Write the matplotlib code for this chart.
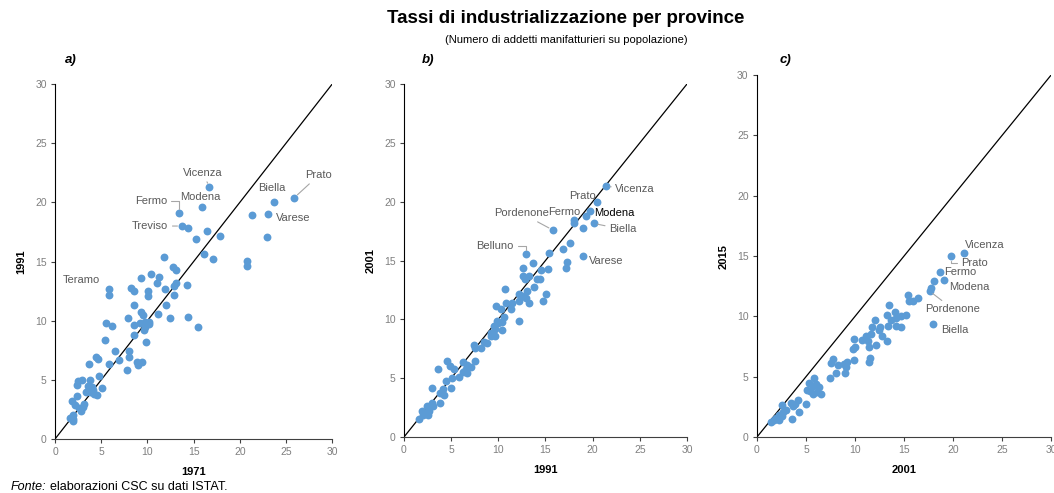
import matplotlib
matplotlib.use("Agg")
import matplotlib.pyplot as plt

plt.rcParams['font.family'] = ['Liberation Sans', 'DejaVu Sans']

# panel a) 1971 vs 1991 -- labelled provinces first
a_names = ["Vicenza", "Prato", "Biella", "Modena", "Fermo", "Treviso", "Varese", "Teramo"]
a_x = [16.7, 25.9, 23.7, 15.96, 13.4, 13.7, 23.1, 5.85,
       14.4, 21.3, 16.5, 15.3, 17.9, 22.9, 16.1, 17.1, 20.8, 20.8, 11.8, 12.8,
       13.1, 9.3, 10.4, 11.3, 11.0, 14.3, 13.1, 12.9, 11.9, 8.2, 8.6, 10.1,
       10.1, 12.9, 5.8, 8.6, 12.0, 9.3, 9.5, 11.1, 7.9, 12.4, 14.4, 15.5,
       5.55, 6.2, 8.5, 9.2, 10.2, 10.2, 9.75, 9.6, 8.5, 5.45, 9.9, 6.5, 8.0,
       8.05, 6.9, 4.4, 4.7, 5.8, 3.7, 8.85, 9.4, 9.0, 7.8, 4.8, 5.05, 3.8,
       2.45, 2.9, 2.35, 3.6, 4.0, 4.15, 3.3, 3.8, 4.25, 4.5, 2.35, 1.8, 2.2,
       3.1, 2.6, 2.8, 1.9, 1.6, 2.0, 1.9, 9.7, 3.0]
a_y = [21.3, 20.4, 20.05, 19.6, 19.1, 18.0, 19.0, 12.7,
       17.86, 18.9, 17.55, 16.9, 17.15, 17.1, 15.65, 15.2, 15.05, 14.65, 15.35, 14.5,
       14.3, 13.6, 13.95, 13.7, 13.15, 13.0, 13.15, 12.9, 12.7, 12.8, 12.55, 12.5,
       12.1, 12.15, 12.15, 11.3, 11.35, 10.7, 10.45, 10.6, 10.25, 10.25, 10.35, 9.5,
       9.8, 9.55, 9.65, 9.8, 9.9, 9.7, 9.5, 9.2, 8.8, 8.4, 8.2, 7.45, 7.45,
       6.95, 6.65, 6.95, 6.75, 6.35, 6.3, 6.5, 6.5, 6.25, 5.8, 5.3, 4.3, 4.95,
       4.9, 5.0, 4.55, 4.45, 4.4, 4.15, 3.95, 3.95, 3.8, 3.7, 3.6, 3.2, 2.9,
       3.0, 2.6, 2.4, 2.05, 1.8, 1.7, 1.55, 9.9, 2.7]

# panel b) 1991 vs 2001
b_names = ["Vicenza", "Prato", "Modena", "Fermo", "Biella", "Pordenone", "Belluno", "Varese"]
b_x = [21.4, 20.5, 19.75, 18.05, 20.1, 15.75, 12.9, 19.0,
       19.25, 18.0, 19.0, 17.65, 16.9, 17.3, 17.2, 15.35, 13.65, 12.6, 14.5,
       15.3, 12.6, 12.85, 13.2, 14.1, 14.4, 13.8, 10.7, 13.0, 15.1, 12.2, 12.6,
       12.95, 12.2, 13.2, 14.75, 10.8, 11.4, 11.3, 9.8, 10.3, 12.2, 10.6, 9.9,
       10.4, 10.0, 9.5, 9.6, 10.4, 9.25, 9.65, 9.2, 8.8, 8.5, 7.45, 7.5, 8.2,
       7.55, 6.25, 7.05, 6.7, 6.55, 6.3, 6.7, 5.8, 4.6, 4.9, 5.3, 3.65, 4.45,
       5.05, 3.0, 4.1, 4.95, 3.8, 4.2, 3.8, 3.0, 3.1, 2.45, 2.65, 1.9, 2.0,
       1.55, 2.5]
b_y = [21.3, 19.97, 19.2, 18.4, 18.15, 17.6, 15.55, 15.4,
       18.8, 18.2, 17.8, 16.5, 15.95, 14.85, 14.4, 15.6, 14.75, 14.4, 14.2,
       14.3, 13.7, 13.45, 13.7, 13.4, 13.4, 12.75, 12.6, 12.4, 12.15, 12.15, 11.95,
       11.8, 11.6, 11.4, 11.55, 11.4, 11.35, 10.9, 11.1, 10.85, 9.9, 10.2, 9.9,
       9.8, 9.65, 9.45, 9.2, 9.1, 8.85, 8.55, 8.55, 8.0, 8.05, 7.8, 7.6, 7.55,
       6.5, 6.4, 5.95, 6.15, 5.8, 5.5, 5.4, 5.1, 6.5, 6.0, 5.75, 5.8, 4.8,
       5.0, 4.15, 4.1, 4.15, 3.7, 3.55, 2.85, 2.9, 2.6, 2.65, 2.25, 2.2, 1.85,
       1.5, 1.9]

# panel c) 2001 vs 2015
c_names = ["Vicenza", "Prato", "Fermo", "Modena", "Pordenone", "Biella"]
c_x = [21.1, 19.75, 18.65, 19.05, 17.6, 18.0,
       18.1, 17.75, 15.45, 15.55, 15.9, 16.4, 13.5, 14.1, 13.25, 13.7, 14.2,
       14.7, 15.2, 14.2, 14.7, 13.35, 12.05, 11.75, 12.5, 12.4, 11.65, 11.15,
       10.75, 11.35, 12.75, 13.25, 11.4, 12.1, 9.85, 9.75, 10.0, 9.85, 11.5,
       11.4, 7.8, 7.6, 8.3, 8.85, 9.2, 9.05, 8.05, 8.95, 7.5, 5.8, 5.3, 5.7,
       6.0, 6.3, 6.5, 5.75, 5.15, 5.4, 6.1, 4.95, 4.2, 3.9, 3.5, 2.55, 3.7,
       4.25, 3.6, 2.7, 3.0, 2.25, 1.95, 1.7, 1.4, 2.2, 2.55]
c_y = [15.25, 14.97, 13.7, 13.05, 12.1, 9.35,
       12.95, 12.35, 11.8, 11.25, 11.25, 11.5, 10.95, 10.35, 10.15, 9.7, 9.9,
       10.05, 10.15, 9.2, 9.1, 9.2, 9.7, 9.15, 9.1, 8.9, 8.5, 8.35,
       8.0, 7.95, 8.4, 7.95, 7.5, 7.65, 8.1, 7.3, 7.45, 6.4, 6.55,
       6.25, 6.45, 6.15, 5.95, 6.05, 6.2, 5.8, 5.3, 5.3, 4.85, 4.85, 4.45, 4.2,
       4.4, 4.15, 3.6, 3.6, 3.9, 3.85, 3.75, 2.75, 3.1, 2.75, 2.8, 2.65, 2.55,
       2.1, 1.5, 2.05, 2.2, 1.85, 1.6, 1.4, 1.25, 1.45, 1.7]

# where each province name sits and what kind of leader line it has
# (None = no line, 'line' = straight, 'elbow' = horizontal then vertical)
a_text = [(16.0, 22.5, 'line'), (28.55, 22.3, 'line'), (23.5, 21.2, None), (15.7, 20.45, None),
          (10.4, 20.1, 'elbow'), (10.3, 18.0, 'line'), (25.8, 18.7, None), (2.8, 13.45, None)]
b_text = [(24.5, 21.1, 'line'), (18.9, 20.5, None), (22.3, 19.0, None), (16.95, 19.15, None),
          (23.2, 17.65, 'line'), (12.5, 19.0, 'line'), (9.65, 16.2, 'elbow'), (21.45, 15.0, None)]
c_text = [(23.25, 15.95, None), (22.15, 14.4, 'elbow'), (20.75, 13.65, None),
          (21.7, 12.45, None), (20.0, 10.6, 'line'), (20.2, 8.9, None)]

BLUE = '#5B9BD5'
GREY = '#7F7F7F'
TXT = '#595959'


def draw_panel(ax, xs, ys, names, texts, xlab, ylab, letter):
    ax.plot([0, 30], [0, 30], color='black', lw=0.9, zorder=1)
    ax.scatter(xs, ys, s=32, color=BLUE, linewidths=0, zorder=2)
    for i, name in enumerate(names):
        tx, ty, leader = texts[i]
        col = 'black' if (letter == 'b)' and name == 'Modena') else TXT
        if leader:
            cs = 'angle,angleA=0,angleB=90,rad=0' if leader == 'elbow' else 'arc3'
            ax.annotate(name, (xs[i], ys[i]), xytext=(tx, ty), ha='center', va='center',
                        fontsize=8, color=col,
                        arrowprops=dict(arrowstyle='-', color='#A6A6A6', lw=0.8,
                                        shrinkA=1, shrinkB=3, connectionstyle=cs))
        else:
            ax.text(tx, ty, name, ha='center', va='center', fontsize=8, color=col)
    ax.set_xlim(0, 30)
    ax.set_ylim(0, 30)
    ax.set_xticks(range(0, 31, 5))
    ax.set_yticks(range(0, 31, 5))
    for s in ['top', 'right']:
        ax.spines[s].set_visible(False)
    ax.spines['left'].set_color('black')
    ax.spines['bottom'].set_color('#404040')
    ax.tick_params(direction='out', length=3, width=0.8, labelsize=7.5,
                   colors='#404040', pad=3)
    ax.tick_params(labelcolor=GREY)
    ax.set_xlabel(xlab, fontsize=8, fontweight='bold', labelpad=7)
    ax.set_ylabel(ylab, fontsize=8, fontweight='bold', labelpad=6)


fig = plt.figure(figsize=(10.54, 4.93), dpi=100)
ax_a = fig.add_axes([0.0522, 0.1095, 0.263, 0.720])
ax_b = fig.add_axes([0.3833, 0.1136, 0.2685, 0.716])
ax_c = fig.add_axes([0.7182, 0.1136, 0.279, 0.734])

draw_panel(ax_a, a_x, a_y, a_names, a_text, '1971', '1991', 'a)')
draw_panel(ax_b, b_x, b_y, b_names, b_text, '1991', '2001', 'b)')
draw_panel(ax_c, c_x, c_y, c_names, c_text, '2001', '2015', 'c)')

narrow = ['Liberation Sans Narrow', 'Liberation Sans', 'DejaVu Sans']
fig.text(0.537, 0.962, 'Tassi di industrializzazione per province', family=narrow,
         fontsize=13.5, fontweight='bold', ha='center', va='center')
fig.text(0.537, 0.918, '(Numero di addetti manifatturieri su popolazione)', family=narrow,
         fontsize=8, ha='center', va='center')
for xp, lt in [(0.067, 'a)'), (0.406, 'b)'), (0.745, 'c)')]:
    fig.text(xp, 0.878, lt, fontsize=9.5, fontweight='bold', style='italic',
             ha='center', va='center')

fig.text(0.010, 0.012, 'Fonte:', fontsize=9, style='italic', ha='left', va='center')
fig.text(0.0475, 0.012, 'elaborazioni CSC su dati ISTAT.', fontsize=9, ha='left', va='center')

fig.savefig('out.png', dpi=100)
